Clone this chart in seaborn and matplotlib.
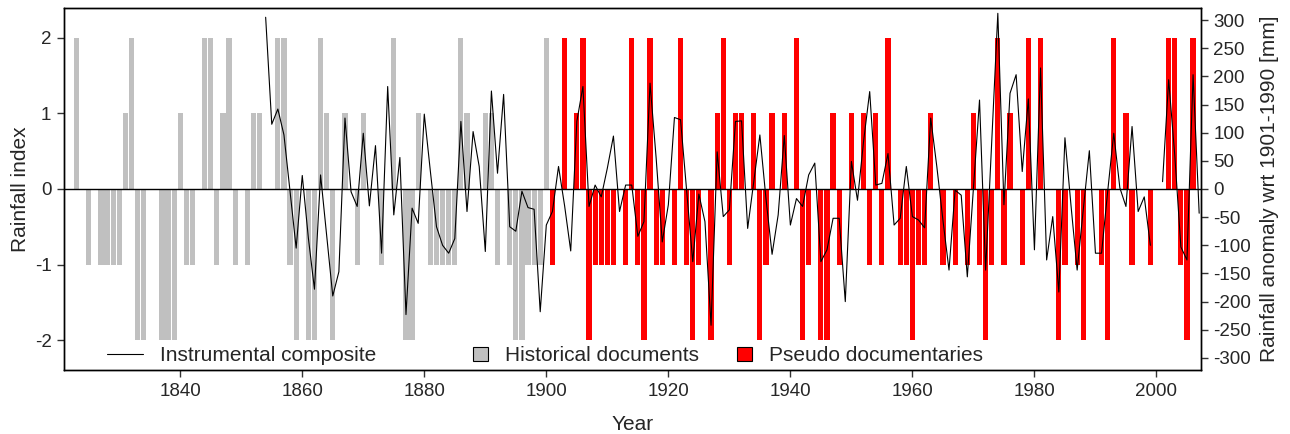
import numpy as np
import pandas as pd
import matplotlib
matplotlib.use("Agg")
import matplotlib.pyplot as plt
from matplotlib.patches import Patch
from matplotlib.lines import Line2D
import seaborn as sns

# Rainfall index from historical documents (1823-1900)
hist_years = list(range(1823, 1901))
hist_index = [
    2, 0, -1, 0, -1, -1, -1, -1, 1, 2,          # 1823-1832
    -2, -2, 0, 0, -2, -2, -2, 1, -1, -1,        # 1833-1842
    0, 2, 2, -1, 1, 2, -1, 0, -1, 1,            # 1843-1852
    1, 0, 0, 2, 2, -1, -2, 0, -2, -2,           # 1853-1862
    2, 1, -2, 0, 1, 0, -1, 1, 0, 0,             # 1863-1872
    -1, 0, 2, 0, -2, -2, 1, 0, -1, -1,          # 1873-1882
    -1, -1, -1, 2, 1, 0, 0, 1, 1, -1,           # 1883-1892
    0, -1, -2, -2, -1, -1, -1, 2,               # 1893-1900
]

# Rainfall index derived as pseudo documentaries (1901-2006)
pseudo_years = list(range(1901, 2007))
pseudo_index = [
    -1, 0, 2, 0, 1, 2, -2, -1, -1, -1,          # 1901-1910
    -1, 0, -1, 2, -1, -2, 2, -1, -1, 0,         # 1911-1920
    -1, 2, -1, -2, -1, 0, -2, 1, 2, -1,         # 1921-1930
    1, 1, 0, 1, -2, -1, 1, 0, 1, 0,             # 1931-1940
    2, -2, -1, 0, -2, -2, 1, -1, 0, 1,          # 1941-1950
    0, 1, -1, 1, -1, 2, 0, -1, -1, -2,          # 1951-1960
    -1, -1, 1, 0, -1, 0, -1, 0, -1, 1,          # 1961-1970
    -1, -2, -1, 2, -1, 1, 0, -1, 2, 0,          # 1971-1980
    2, 0, 0, -2, -1, 0, -1, -2, 0, 0,           # 1981-1990
    -1, -2, 2, 0, 1, -1, 0, 0, -1, 0,           # 1991-2000
    0, 2, 2, -1, -2, 2,                         # 2001-2006
]

# Instrumental composite, rainfall anomaly wrt 1901-1990 in mm (1854-2007)
instr_years = list(range(1854, 2008))
instr_mm = [
    305, 115, 142, 96, -5, -105, 24, -87, -178, 25,          # 1854-1863
    -82, -190, -147, 126, -5, -31, 99, -30, 77, -114,        # 1864-1873
    182, -46, 56, -223, -34, -61, 133, 31, -67, -100,        # 1874-1883
    -114, -88, 120, -40, 102, 40, -111, 174, 28, 168,        # 1884-1893
    -67, -75, -4, -33, -36, -218, -64, -40, 40, -30,         # 1894-1903
    -110, 120, 182, -31, 7, -14, 37, 94, -40, 7,             # 1904-1913
    7, -84, -58, 188, 55, -94, -28, 127, 123, -2,            # 1914-1923
    -129, -9, -58, -242, 66, -49, -37, 120, 121, -70,        # 1924-1933
    13, 96, -17, -116, -46, 95, -64, -17, -31, 25,           # 1934-1943
    46, -129, -108, -52, -52, -200, 49, -20, 85, 173,        # 1944-1953
    7, 10, 63, -64, -52, 40, -49, -55, -69, 126,             # 1954-1963
    40, -55, -144, -2, -11, -156, 2, 158, -144, 84,          # 1964-1973
    312, -28, 170, 203, 31, 160, -108, 215, -126, -49,       # 1974-1983
    -183, 91, -30, -144, -37, 68, -114, -114, -5, 99,        # 1984-1993
    2, -31, 111, -40, -14, -100, np.nan, 13, 194, 60,        # 1994-2003
    -103, -126, 203, -43,                                    # 2004-2007
]

xtick_years = list(range(1840, 2001, 20))
index_ticks = [-2, -1, 0, 1, 2]
mm_ticks = list(range(-300, 301, 50))

GREY = "#C0C0C0"
RED = "#FF0000"

sns.set_style("ticks")
plt.rcParams["font.family"] = ["Liberation Sans", "DejaVu Sans"]
plt.rcParams["axes.unicode_minus"] = False

hist_df = pd.DataFrame({"year": hist_years, "index": hist_index})
pseudo_df = pd.DataFrame({"year": pseudo_years, "index": pseudo_index})
instr_df = pd.DataFrame({"year": instr_years, "mm": instr_mm})
# split the instrumental record into continuous pieces at missing years
instr_df["piece"] = instr_df["mm"].isna().cumsum()
instr_df = instr_df.dropna()

fig = plt.figure(figsize=(12.9, 4.34), dpi=100)
ax = fig.add_axes([64 / 1290, 1 - 370 / 434, (1201 - 64) / 1290, (370 - 8) / 434])

sns.barplot(data=hist_df, x="year", y="index", native_scale=True, color=GREY,
            saturation=1, width=0.85, errorbar=None, linewidth=0, ax=ax)
sns.barplot(data=pseudo_df, x="year", y="index", native_scale=True, color=RED,
            saturation=1, width=0.85, errorbar=None, linewidth=0, ax=ax)
ax.axhline(0, color="black", lw=1.0, zorder=3)

ax.set_xlim(1820.95, 2007.3)
ax.set_ylim(-2.39, 2.39)
ax.set_xticks(xtick_years)
ax.set_xticklabels([str(y) for y in xtick_years])
ax.set_yticks(index_ticks)
ax.set_yticklabels([str(v) for v in index_ticks])
ax.set_xlabel("Year", fontsize=15, labelpad=11)
ax.set_ylabel("Rainfall index", fontsize=15, labelpad=3)

ax2 = ax.twinx()
sns.lineplot(data=instr_df, x="year", y="mm", units="piece", estimator=None,
             color="black", lw=0.8, legend=False, ax=ax2)
ax2.set_ylim(-2.39 * 134.5, 2.39 * 134.5)
ax2.set_yticks(mm_ticks)
ax2.set_yticklabels([str(v) for v in mm_ticks])
ax2.set_xlim(ax.get_xlim())
ax2.set_ylabel("Rainfall anomaly wrt 1901-1990 [mm]", fontsize=15, labelpad=6)

for a in (ax, ax2):
    for s in a.spines.values():
        s.set_visible(True)
        s.set_color("black")
        s.set_linewidth(1.0)
    a.tick_params(direction="out", length=5, width=1, color="#333333",
                  labelsize=13.5, pad=4)
ax2.tick_params(axis="x", which="both", bottom=False, top=False,
                labelbottom=False, labeltop=False)

leg_kw = dict(loc="center left", frameon=False, borderpad=0, borderaxespad=0,
              fontsize=15, handletextpad=0.82)
leg1 = ax2.legend(handles=[Line2D([], [], color="black", lw=0.8)],
                  labels=["Instrumental composite"], handlelength=1.73,
                  bbox_to_anchor=(0.0378, 0.0387), **leg_kw)
ax2.add_artist(leg1)
leg2 = ax2.legend(handles=[Patch(facecolor=GREY, edgecolor="black", lw=0.8)],
                  labels=["Historical documents"], handlelength=0.72,
                  handleheight=0.65, bbox_to_anchor=(0.3597, 0.0387), **leg_kw)
ax2.add_artist(leg2)
ax2.legend(handles=[Patch(facecolor=RED, edgecolor="black", lw=0.8)],
           labels=["Pseudo documentaries"], handlelength=0.72,
           handleheight=0.65, bbox_to_anchor=(0.5919, 0.0387), **leg_kw)

fig.savefig("out.png", dpi=100)
